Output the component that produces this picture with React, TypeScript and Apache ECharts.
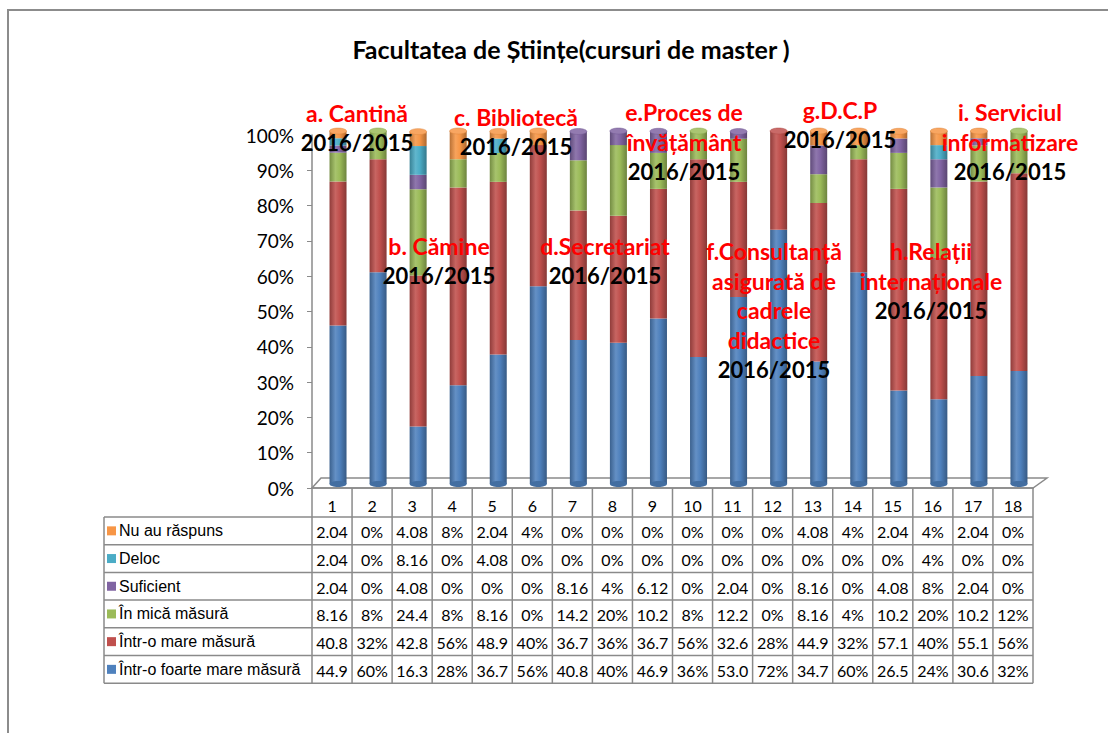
import React, { useEffect, useRef } from "react";
import * as echarts from "echarts";

const categories = ["1","2","3","4","5","6","7","8","9","10","11","12","13","14","15","16","17","18"];

// table texts as printed in the reference (top row first)
const nuAuRaspuns = ["2.04","0%","4.08","8%","2.04","4%","0%","0%","0%","0%","0%","0%","4.08","4%","2.04","4%","2.04","0%"];
const deloc = ["2.04","0%","8.16","0%","4.08","0%","0%","0%","0%","0%","0%","0%","0%","0%","0%","4%","0%","0%"];
const suficient = ["2.04","0%","4.08","0%","0%","0%","8.16","4%","6.12","0%","2.04","0%","8.16","0%","4.08","8%","2.04","0%"];
const inMicaMasura = ["8.16","8%","24.4","8%","8.16","0%","14.2","20%","10.2","8%","12.2","0%","8.16","4%","10.2","20%","10.2","12%"];
const intrOMareMasura = ["40.8","32%","42.8","56%","48.9","40%","36.7","36%","36.7","56%","32.6","28%","44.9","32%","57.1","40%","55.1","56%"];
const intrOFoarteMareMasura = ["44.9","60%","16.3","28%","36.7","56%","40.8","40%","46.9","36%","53.0","72%","34.7","60%","26.5","24%","30.6","32%"];

const yTicks = [0, 10, 20, 30, 40, 50, 60, 70, 80, 90, 100];

const seriesDefs = [
  { name: "Într-o foarte mare măsură", cells: intrOFoarteMareMasura, color: "#4F81BD" },
  { name: "Într-o mare măsură", cells: intrOMareMasura, color: "#C0504D" },
  { name: "În mică măsură", cells: inMicaMasura, color: "#9BBB59" },
  { name: "Suficient", cells: suficient, color: "#8064A2" },
  { name: "Deloc", cells: deloc, color: "#4BACC6" },
  { name: "Nu au răspuns", cells: nuAuRaspuns, color: "#F79646" },
];

const title = "Facultatea de Științe(cursuri de master )";
const period = "2016/2015";
const annotations = [
  { x: 357, y: 113, lines: ["a. Cantină"] },
  { x: 439, y: 246, lines: ["b. Cămine"] },
  { x: 516, y: 117, lines: ["c. Bibliotecă"] },
  { x: 605, y: 246, lines: ["d.Secretariat"] },
  { x: 684, y: 112, lines: ["e.Proces de", "învățământ"] },
  { x: 774, y: 251, lines: ["f.Consultanță", "asigurată de", "cadrele", "didactice"] },
  { x: 840, y: 110, lines: ["g.D.C.P"] },
  { x: 931, y: 251, lines: ["h.Relații", "internaționale"] },
  { x: 1010, y: 112, lines: ["i. Serviciul", "informatizare"] },
];

function shade(hex: string, f: number) {
  const n = parseInt(hex.slice(1), 16);
  let r = (n >> 16) & 255, g = (n >> 8) & 255, b = n & 255;
  const t = f < 0 ? 0 : 255;
  const p = Math.abs(f);
  r = Math.round(r + (t - r) * p);
  g = Math.round(g + (t - g) * p);
  b = Math.round(b + (t - b) * p);
  return "rgb(" + r + "," + g + "," + b + ")";
}

const cyl = (c: string) =>
  new echarts.graphic.LinearGradient(0, 0, 1, 0, [
    { offset: 0, color: shade(c, -0.25) },
    { offset: 0.35, color: shade(c, 0.12) },
    { offset: 0.6, color: c },
    { offset: 1, color: shade(c, -0.3) },
  ]);

export default function App() {
  const ref = useRef<HTMLDivElement>(null);
  useEffect(() => {
    if (!ref.current) return;
    const chart = echarts.init(ref.current, null, { renderer: "svg" });

    // layout
    const tLeft = 312, tRight = 1033, labelLeft = 104;
    const colW = (tRight - tLeft) / categories.length;
    const axisY = 488, rowTop = 517, rowH = 27.7;
    const lineColor = "#8a8a8a";
    const barW = 17;

    const values = seriesDefs.map((s) => s.cells.map((c) => parseFloat(c)));
    const totals = categories.map((_, i) => values.reduce((acc, v) => acc + v[i], 0));
    const topColor = categories.map((_, i) => {
      let c = seriesDefs[0].color;
      values.forEach((v, k) => { if (v[i] > 0) c = seriesDefs[k].color; });
      return c;
    });

    const graphics: any[] = [];
    graphics.push({
      type: "rect", z: 0, silent: true,
      shape: { x: 8, y: 10, width: 1200, height: 800 },
      style: { fill: "none", stroke: "#8c8c8c", lineWidth: 2 },
    });
    graphics.push({
      type: "polygon", z: 0, silent: true,
      shape: { points: [[tLeft, axisY], [tLeft + 9, axisY - 10], [tRight + 14, axisY - 10], [tRight, axisY]] },
      style: { fill: "#fff", stroke: lineColor, lineWidth: 1.5 },
    });
    graphics.push({
      type: "text", z: 100, silent: true, x: 571, y: 49,
      style: { text: title, fontFamily: "Lato", fontWeight: "bold", fontSize: 25, fill: "#000", align: "center", verticalAlign: "middle" },
    });
    for (let i = 0; i <= categories.length; i++) {
      const x = tLeft + i * colW;
      graphics.push({ type: "line", z: 1, silent: true, shape: { x1: x, y1: axisY, x2: x, y2: rowTop + 6 * rowH }, style: { stroke: lineColor, lineWidth: 1.5 } });
    }
    graphics.push({ type: "line", z: 1, silent: true, shape: { x1: labelLeft, y1: rowTop, x2: labelLeft, y2: rowTop + 6 * rowH }, style: { stroke: lineColor, lineWidth: 1.5 } });
    for (let k = 0; k <= 6; k++) {
      const y = rowTop + k * rowH;
      graphics.push({ type: "line", z: 1, silent: true, shape: { x1: labelLeft, y1: y, x2: tRight, y2: y }, style: { stroke: lineColor, lineWidth: 1.5 } });
    }
    const rows = seriesDefs.slice().reverse();
    rows.forEach((s, k) => {
      s.cells.forEach((txt, i) => {
        graphics.push({
          type: "text", z: 2, silent: true,
          x: tLeft + (i + 0.5) * colW, y: rowTop + (k + 0.5) * rowH + 1,
          style: { text: txt, fontFamily: "Lato", fontSize: 16, fill: "#000", align: "center", verticalAlign: "middle" },
        });
      });
    });
    const lh = 29.5;
    annotations.forEach((a) => {
      a.lines.forEach((t, j) => {
        graphics.push({
          type: "text", z: 100, silent: true, x: a.x, y: a.y + j * lh,
          style: { text: t, fontFamily: "Lato", fontWeight: "bold", fontSize: 23, fill: "#ff0000", align: "center", verticalAlign: "middle" },
        });
      });
      graphics.push({
        type: "text", z: 100, silent: true, x: a.x, y: a.y + a.lines.length * lh,
        style: { text: period, fontFamily: "Lato", fontWeight: "bold", fontSize: 22, fill: "#000", align: "center", verticalAlign: "middle" },
      });
    });

    const option: any = {
      animation: false,
      legend: {
        orient: "vertical", left: labelLeft + 3, top: rowTop, itemGap: 0, itemWidth: 9, itemHeight: 9,
        icon: "rect", selectedMode: false, padding: 0,
        data: seriesDefs.slice().reverse().map((s) => ({ name: s.name, itemStyle: { color: s.color } })),
        textStyle: { fontFamily: "Liberation Sans", fontSize: 16, color: "#000", lineHeight: rowH, padding: [0, 0, 0, -2] },
      },
      grid: [
        { left: tLeft + 6, top: axisY - 4 - 353, width: tRight - tLeft, height: 353 },
        { left: tLeft, top: axisY - 353, width: tRight - tLeft, height: 353 },
      ],
      xAxis: [
        { type: "category", gridIndex: 0, data: categories, show: false },
        {
          type: "category", gridIndex: 1, data: categories,
          axisLine: { lineStyle: { color: lineColor, width: 1.5 } }, axisTick: { show: false },
          axisLabel: { margin: 9, fontFamily: "Lato", fontSize: 16, color: "#000" },
        },
      ],
      yAxis: [
        { type: "value", gridIndex: 0, min: 0, max: 100, show: false },
        {
          type: "value", gridIndex: 1, min: yTicks[0], max: yTicks[yTicks.length - 1], interval: 10,
          axisLine: { show: true, lineStyle: { color: lineColor, width: 1.5 } },
          axisTick: { show: true, length: 5, lineStyle: { color: lineColor } },
          splitLine: { show: false },
          axisLabel: { formatter: "{value}%", fontFamily: "Lato", fontSize: 19, color: "#000", margin: 18 },
        },
      ],
      series: [
        ...seriesDefs.map((s, k) => ({
          name: s.name, type: "bar", stack: "all", xAxisIndex: 0, yAxisIndex: 0, barWidth: barW,
          data: values[k],
          itemStyle: { color: cyl(s.color) },
        })),
        {
          type: "custom", name: "caps", xAxisIndex: 0, yAxisIndex: 0, z: 5, silent: true,
          data: totals.map((t, i) => [i, t]),
          renderItem: (params: any, api: any) => {
            const i = api.value(0);
            const top = api.coord([i, api.value(1)]);
            const base = api.coord([i, 0]);
            const c = topColor[i];
            return {
              type: "group",
              children: [
                { type: "ellipse", shape: { cx: base[0], cy: base[1], rx: barW / 2, ry: 3 }, style: { fill: shade(seriesDefs[0].color, -0.15) } },
                { type: "ellipse", shape: { cx: top[0], cy: top[1], rx: barW / 2, ry: 3 }, style: { fill: shade(c, 0.15), stroke: shade(c, -0.1), lineWidth: 0.5 } },
              ],
            };
          },
        },
      ],
      graphic: graphics,
    };
    chart.setOption(option);
    return () => chart.dispose();
  }, []);
  return <div ref={ref} style={{ position: "fixed", left: 0, top: 0, width: 1108, height: 733, background: "#fff" }} />;
}
